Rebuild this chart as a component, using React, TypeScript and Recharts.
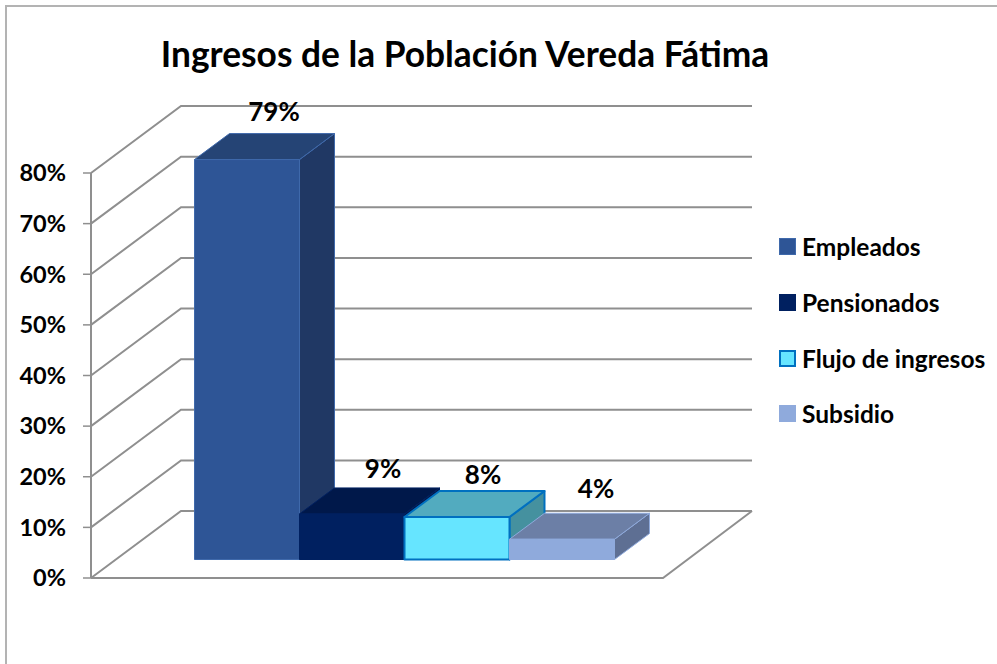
import { Bar, BarChart, CartesianGrid, LabelList, Legend, XAxis, YAxis } from "recharts";

const categories = ["Empleados", "Pensionados", "Flujo de ingresos", "Subsidio"];
const percentages = [79, 9, 8.4, 4];
const yTicks = [0, 10, 20, 30, 40, 50, 60, 70, 80];

const FONT = "Lato, Carlito, sans-serif";
const GRID = "#8f8f8f";
const WALL_DX = 90;
const WALL_DY = 67;
const BAR_DX = 25.5;
const BAR_DY = 18.5;
const DEPTH_X = 35;
const DEPTH_Y = 26;

const faces = [
  { front: "#2e5596", top: "#254475", side: "#203864", stroke: "#3f69ab", line: 1 },
  { front: "#002060", top: "#00184a", side: "#00184a", stroke: "#002060", line: 1 },
  { front: "#66e5ff", top: "#52abbf", side: "#45919f", stroke: "#0070c0", line: 2 },
  { front: "#8faadc", top: "#6c7fa6", side: "#5e6f93", stroke: "#8faadc", line: 1 },
];
const labelNudge = [
  [27, -49],
  [31, -46],
  [26, -43],
  [34, -51],
];

const data = categories.map((name, i) => ({ name, value: percentages[i] }));

function Box(props: any) {
  const { x, y, width, height, index } = props;
  const c = faces[index];
  const l = x + BAR_DX;
  const t = y - BAR_DY;
  const r = l + width;
  const b = t + height;
  return (
    <g strokeWidth={c.line} stroke={c.stroke} strokeLinejoin="round">
      <polygon
        fill={c.side}
        points={`${r},${t} ${r + DEPTH_X},${t - DEPTH_Y} ${r + DEPTH_X},${b - DEPTH_Y} ${r},${b}`}
      />
      <polygon
        fill={c.top}
        points={`${l},${t} ${l + DEPTH_X},${t - DEPTH_Y} ${r + DEPTH_X},${t - DEPTH_Y} ${r},${t}`}
      />
      <rect x={l} y={t} width={width} height={height} fill={c.front} />
    </g>
  );
}

function WallLine(props: any) {
  const { x1, x2, y1 } = props;
  const isFloor = y1 > 570;
  return (
    <g fill="none" stroke={GRID} strokeWidth={2}>
      <polyline points={`${x1},${y1} ${x1 + WALL_DX},${y1 - WALL_DY} ${x2 + WALL_DX - 1},${y1 - WALL_DY}`} />
      {isFloor && <polyline points={`${x1},${y1} ${x2},${y1} ${x2 + WALL_DX - 1},${y1 - WALL_DY}`} />}
    </g>
  );
}

function PercentLabel(props: any) {
  const { x, y, width, value, index } = props;
  const [dx, dy] = labelNudge[index];
  return (
    <text
      x={x + BAR_DX + width / 2 + dx}
      y={y - BAR_DY + dy}
      textAnchor="middle"
      dominantBaseline="central"
      fontFamily={FONT}
      fontWeight={700}
      fontSize={26}
      fill="#000"
    >
      {`${Math.round(value)}%`}
    </text>
  );
}

function LegendBox() {
  return (
    <div style={{ fontFamily: FONT, fontWeight: 700, fontSize: 24.5, color: "#000" }}>
      {categories.map((name, i) => (
        <div key={name} style={{ display: "flex", alignItems: "center", height: 55.7, whiteSpace: "nowrap" }}>
          <span
            style={{
              width: 17 - 2 * faces[i].line,
              height: 17 - 2 * faces[i].line,
              marginRight: 6,
              background: faces[i].front,
              border: `${faces[i].line}px solid ${faces[i].stroke}`,
              flex: "none",
            }}
          />
          {name}
        </div>
      ))}
    </div>
  );
}

export default function App() {
  return (
    <div style={{ position: "absolute", left: 0, top: 0, width: 997, height: 664, overflow: "hidden", background: "#fff" }}>
      <div style={{ position: "absolute", left: 5, top: 5, width: 1000, height: 700, border: "2px solid #b3b3b3" }} />
      <div
        style={{
          position: "absolute",
          left: 0,
          width: 930,
          top: 34,
          textAlign: "center",
          fontFamily: FONT,
          fontWeight: 700,
          fontSize: 35.3,
          lineHeight: "40px",
          color: "#000",
        }}
      >
        Ingresos de la Población Vereda Fátima
      </div>
      <BarChart
        width={997}
        height={664}
        data={data}
        barCategoryGap={0}
        margin={{ top: 173, right: 119, bottom: 86, left: 0 }}
        style={{ position: "absolute", left: 0, top: 0 }}
      >
        <CartesianGrid vertical={false} horizontal={(p: any) => <WallLine key={p.key} {...p} />} />
        <XAxis dataKey="name" tick={false} tickLine={false} axisLine={false} height={0} padding={{ left: 78, right: 74 }} />
        <YAxis
          width={91}
          domain={[0, 80]}
          ticks={yTicks}
          interval={0}
          tickFormatter={(v: number) => `${v}%`}
          tickSize={8}
          tickMargin={17}
          axisLine={{ stroke: GRID, strokeWidth: 2 }}
          tickLine={{ stroke: GRID, strokeWidth: 1.5 }}
          tick={{ fill: "#000", fontFamily: FONT, fontWeight: 700, fontSize: 23.5 }}
        />
        <Legend
          layout="vertical"
          align="right"
          verticalAlign="top"
          content={<LegendBox />}
          wrapperStyle={{ position: "absolute", left: 779, top: 219, width: 215 }}
        />
        <Bar dataKey="value" isAnimationActive={false} shape={<Box />}>
          <LabelList dataKey="value" content={<PercentLabel />} />
        </Bar>
      </BarChart>
    </div>
  );
}
